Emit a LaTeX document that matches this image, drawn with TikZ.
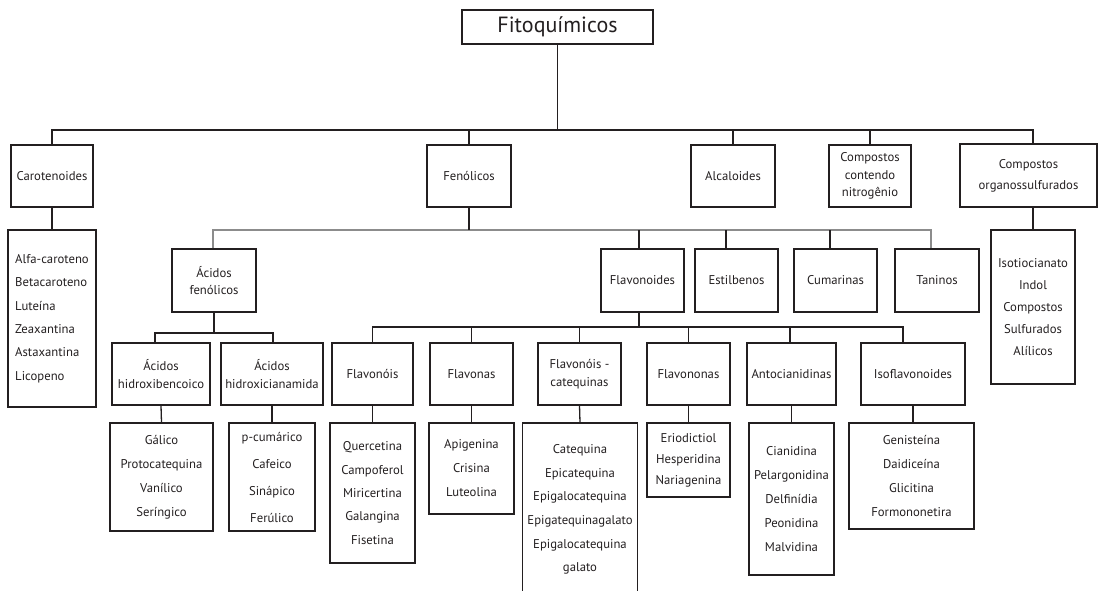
\documentclass[tikz,border=0pt]{standalone}
\usepackage{fontspec}
\setmainfont{PT Sans}
\definecolor{ink}{HTML}{231F20}
\definecolor{bus}{HTML}{8C8C8C}
\begin{document}
\begin{tikzpicture}[x=1pt,y=-1pt,
  box/.style={draw=ink,line width=1.3pt,inner sep=0pt,align=center,text=ink,
    font=\fontsize{12.7}{17.5}\selectfont},
  conn/.style={draw=ink,line width=1.3pt},
  gconn/.style={draw=bus,line width=1.6pt}]
\useasboundingbox (0,0) rectangle (1100,590);
% top
\node[box,minimum width=191pt,minimum height=34pt,font=\fontsize{22}{24}\selectfont] (fito) at (557.5,27) {Fitoquímicos};
\node[box,minimum width=82pt,minimum height=62pt] (caro) at (52,176) {Carotenoides};
\node[box,minimum width=84pt,minimum height=62pt] (fen) at (469,176) {Fenólicos};
\node[box,minimum width=84pt,minimum height=62pt] (alc) at (733,176) {Alcaloides};
\node[box,minimum width=82pt,minimum height=62pt] (nitro) at (870,176) {Compostos\\contendo\\nitrogênio};
\node[box,minimum width=137pt,minimum height=63pt,font=\fontsize{12.7}{21}\selectfont] (orgs) at (1028.5,175.5) {Compostos\\organossulfurados};
% lists under top
\node[box,minimum width=88pt,minimum height=177pt,align=left,font=\fontsize{12.7}{23.3}\selectfont] (caroL) at (52,318.5) {Alfa-caroteno\\Betacaroteno\\Luteína\\Zeaxantina\\Astaxantina\\Licopeno};
\node[box,minimum width=84pt,minimum height=154pt,font=\fontsize{12.7}{22}\selectfont] (isot) at (1033,307) {Isotiocianato\\Indol\\Compostos\\Sulfurados\\Alílicos};
% phenolics level
\node[box,minimum width=84pt,minimum height=63pt] (acf) at (214,280.5) {Ácidos\\fenólicos};
\node[box,minimum width=83pt,minimum height=63pt] (flav) at (642.5,280.5) {Flavonoides};
\node[box,minimum width=83pt,minimum height=63pt] (estil) at (736.5,280.5) {Estilbenos};
\node[box,minimum width=83pt,minimum height=63pt] (cum) at (835.5,280.5) {Cumarinas};
\node[box,minimum width=84pt,minimum height=63pt] (tan) at (937,280.5) {Taninos};
% third level
\node[box,minimum width=98pt,minimum height=62pt] (ahb) at (161,374) {Ácidos\\hidroxibencoico};
\node[box,minimum width=102pt,minimum height=62pt] (ahc) at (272,374) {Ácidos\\hidroxicianamida};
\node[box,minimum width=81pt,minimum height=62pt] (fls) at (372.5,374) {Flavonóis};
\node[box,minimum width=83pt,minimum height=62pt] (fnas) at (471.5,374) {Flavonas};
\node[box,minimum width=83pt,minimum height=62pt] (fcat) at (579.5,374) {Flavonóis -\\catequinas};
\node[box,minimum width=83pt,minimum height=62pt] (fnon) at (688.5,374) {Flavononas};
\node[box,minimum width=89pt,minimum height=62pt] (anto) at (791.5,374) {Antocianidinas};
\node[box,minimum width=104pt,minimum height=62pt] (iso) at (913,374) {Isoflavonoides};
% bottom lists
\node[box,minimum width=103pt,minimum height=108pt,font=\fontsize{12.7}{24}\selectfont] (galL) at (161.5,477) {Gálico\\Protocatequina\\Vanílico\\Seríngico};
\node[box,minimum width=86pt,minimum height=108pt,font=\fontsize{12.7}{27}\selectfont] (cinL) at (272,477) {p-cumárico\\Cafeico\\Sinápico\\Ferúlico};
\node[box,minimum width=85pt,minimum height=140pt,font=\fontsize{12.7}{23.4}\selectfont] (flsL) at (372.5,493) {Quercetina\\Campoferol\\Miricertina\\Galangina\\Fisetina};
\node[box,minimum width=85pt,minimum height=91pt,font=\fontsize{12.7}{24}\selectfont] (fnasL) at (471.5,468.5) {Apigenina\\Crisina\\Luteolina};
\node[box,minimum width=115pt,minimum height=173pt,font=\fontsize{12.7}{23.6}\selectfont] (fcatL) at (580,509.5) {Catequina\\Epicatequina\\Epigalocatequina\\Epigatequinagalato\\Epigalocatequina\\galato};
\node[box,minimum width=83pt,minimum height=74pt,font=\fontsize{12.7}{21}\selectfont] (fnonL) at (688.5,460) {Eriodictiol\\Hesperidina\\Nariagenina};
\node[box,minimum width=85pt,minimum height=152pt,font=\fontsize{12.7}{23.8}\selectfont] (antoL) at (791.5,499) {Cianidina\\Pelargonidina\\Delfinídia\\Peonidina\\Malvidina};
\node[box,minimum width=125pt,minimum height=106pt,font=\fontsize{12.7}{23.7}\selectfont] (isoL) at (911.5,476) {Genisteína\\Daidiceína\\Glicitina\\Formononetira};
% bus coordinates
\coordinate (topbus) at (0,130);
\coordinate (fenbus) at (0,230);
\coordinate (acfbus) at (0,333);
\coordinate (flavbus) at (0,327);
\path ([xshift=4.5pt]orgs.north) coordinate (orgsT);
\path ([xshift=4.5pt]orgs.south) coordinate (orgsB);
\path ([xshift=-1pt]acf.north) coordinate (acfT);
\path ([xshift=-3.5pt]flav.north) coordinate (flavT);
\path ([xshift=-3.5pt]flav.south) coordinate (flavB);
\path ([xshift=-10.5pt]estil.north) coordinate (estilT);
\path ([xshift=-5.5pt]cum.north) coordinate (cumT);
\path ([xshift=-6pt]tan.north) coordinate (tanT);
\path ([xshift=-6pt]ahb.north) coordinate (ahbT);
\path ([xshift=1pt]ahc.north) coordinate (ahcT);
\path ([xshift=-10pt]iso.north) coordinate (isoT);
\path ([xshift=-1.5pt]anto.north) coordinate (antoT);
% top connectors
\draw[conn] (fito.south) -- (fito.south |- topbus);
\draw[conn] (caro.north) -- (caro.north |- topbus) -- (orgsT |- topbus) -- (orgsT);
\draw[conn] (fen.north) -- (fen.north |- topbus);
\draw[conn] (alc.north) -- (alc.north |- topbus);
\draw[conn] (nitro.north) -- (nitro.north |- topbus);
\draw[conn] (caro.south) -- (caroL.north);
\draw[conn] (orgsB) -- (orgsB |- isot.north);
% phenolic bus
\draw[gconn] (acfT) -- (acfT |- fenbus) -- (tanT |- fenbus) -- (tanT);
\draw[conn] (fen.south) -- (fen.south |- fenbus);
\draw[conn] (flavT) -- (flavT |- fenbus);
\draw[conn] (estilT) -- (estilT |- fenbus);
\draw[conn] (cumT) -- (cumT |- fenbus);
% acidos fenolicos
\draw[conn] (acf.south) -- (acf.south |- acfbus);
\draw[conn] (ahbT) -- (ahbT |- acfbus) -- (ahcT |- acfbus) -- (ahcT);
% flavonoides
\draw[conn] (flavB) -- (flavB |- flavbus);
\draw[conn] (fls.north) -- (fls.north |- flavbus) -- (isoT |- flavbus) -- (isoT);
\draw[conn] (fnas.north) -- (fnas.north |- flavbus);
\draw[conn] (fcat.north) -- (fcat.north |- flavbus);
\draw[conn] (fnon.north) -- (fnon.north |- flavbus);
\draw[conn] (antoT) -- (antoT |- flavbus);
% lists
\draw[conn] (ahb.south) -- (galL.north);
\draw[conn] (ahc.south) -- (cinL.north);
\draw[conn] (fls.south) -- (flsL.north);
\draw[conn] (fnas.south) -- (fnasL.north);
\draw[conn] (fcat.south) -- (fcatL.north);
\draw[conn] (fnon.south) -- (fnonL.north);
\draw[conn] (anto.south) -- (antoL.north -| anto.south);
\draw[conn] (iso.south) -- (isoL.north -| iso.south);
\end{tikzpicture}
\end{document}
